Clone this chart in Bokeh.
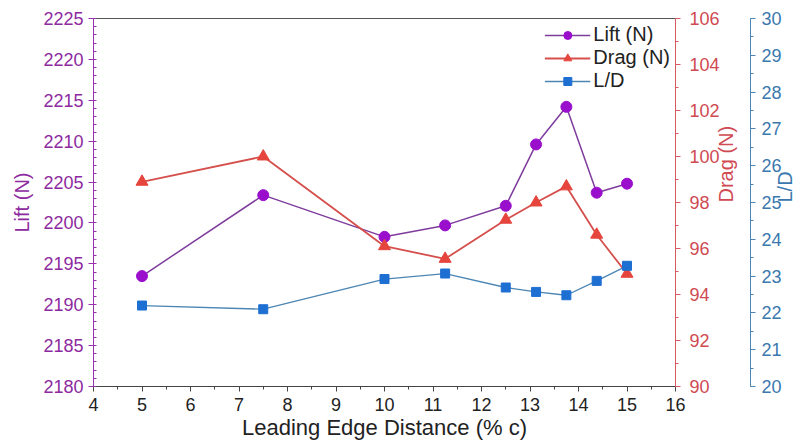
import math
from bokeh.plotting import figure
from bokeh.models import Range1d, LinearAxis, SingleIntervalTicker, Legend, LegendItem
from bokeh.embed import file_html
from bokeh.resources import INLINE

# Data
x_dist = [5, 7.5, 10, 11.25, 12.5, 13.125, 13.75, 14.375, 15]
lift = [2193.5, 2203.4, 2198.3, 2199.7, 2202.1, 2209.6, 2214.2, 2203.7, 2204.8]
drag = [98.9, 100.0, 96.1, 95.55, 97.25, 98.0, 98.7, 96.6, 94.9]
lift_drag = [22.2, 22.1, 22.92, 23.07, 22.69, 22.57, 22.48, 22.87, 23.28]

FONT = "Liberation Sans"
LIFT_C, LIFT_L, LIFT_T = "#9A0FCC", "#7E3C9C", "#8E2AA0"
DRAG_C, DRAG_L, DRAG_T = "#E5453C", "#D5504C", "#CF4A52"
LD_C, LD_L, LD_T = "#1E6FD2", "#4B86B4", "#3A78AE"
AX = "#444444"

p = figure(width=809, height=442, output_backend="svg", toolbar_location=None,
           x_range=Range1d(4, 16), y_range=Range1d(2180, 2225),
           min_border_top=18, min_border_left=93, min_border_right=0, min_border_bottom=0)
p.grid.visible = False
p.outline_line_color = "#555555"
p.extra_y_ranges = {"drag": Range1d(90, 106), "ld": Range1d(20, 30)}

# x axis
xa = p.xaxis[0]
xa.ticker = SingleIntervalTicker(interval=1, num_minor_ticks=2)
xa.axis_label = "Leading Edge Distance (% c)"
xa.axis_label_text_font = FONT
xa.axis_label_text_font_size = "22px"
xa.axis_label_text_font_style = "normal"
xa.axis_label_text_color = "#222222"
xa.axis_label_standoff = 1
xa.major_label_text_font = FONT
xa.major_label_text_font_size = "18px"
xa.major_label_text_color = "#222222"
xa.major_label_standoff = 6
xa.axis_line_color = AX
xa.major_tick_line_color = AX
xa.minor_tick_line_color = AX
xa.major_tick_out = 5
xa.major_tick_in = 0
xa.minor_tick_out = 3
xa.minor_tick_in = 0


def style_y(ax, col, tcol, label, lab_standoff, title_standoff, right=False):
    ax.axis_label = label
    ax.axis_label_text_font = FONT
    ax.axis_label_text_font_size = "20px"
    ax.axis_label_text_font_style = "normal"
    ax.axis_label_text_color = tcol
    ax.axis_label_standoff = title_standoff
    ax.major_label_text_font = FONT
    ax.major_label_text_font_size = "18px"
    ax.major_label_text_color = tcol
    ax.major_label_standoff = lab_standoff
    ax.axis_line_color = col
    ax.major_tick_line_color = col
    ax.minor_tick_line_color = col
    ax.major_tick_out = 5
    ax.major_tick_in = 0
    if right:
        ax.minor_tick_out = 3
        ax.minor_tick_in = 0
        try:
            ax.axis_label_orientation = math.pi / 2
        except Exception:
            pass
    else:
        ax.minor_tick_out = 0
        ax.minor_tick_in = 3


ya = p.yaxis[0]
ya.ticker = SingleIntervalTicker(interval=5, num_minor_ticks=5)
style_y(ya, "#9A30B0", LIFT_T, "Lift (N)", 5, 7)

drag_ax = LinearAxis(y_range_name="drag",
                     ticker=SingleIntervalTicker(interval=2, num_minor_ticks=2))
style_y(drag_ax, "#D85A62", DRAG_T, "Drag (N)", 9, 3, right=True)
p.add_layout(drag_ax, "right")

ld_ax = LinearAxis(y_range_name="ld",
                   ticker=SingleIntervalTicker(interval=1, num_minor_ticks=2))
style_y(ld_ax, "#4A86B8", LD_T, "L/D", 6, 0, right=True)
p.add_layout(ld_ax, "right")

# series
l1 = p.line(x_dist, lift, line_color=LIFT_L, line_width=1.5)
s1 = p.scatter(x_dist, lift, marker="circle", size=11, fill_color=LIFT_C, line_color=LIFT_C)
l2 = p.line(x_dist, drag, line_color=DRAG_L, line_width=1.8, y_range_name="drag")
s2 = p.scatter(x_dist, drag, marker="triangle", size=12, fill_color=DRAG_C, line_color=DRAG_C,
               y_range_name="drag")
l3 = p.line(x_dist, lift_drag, line_color=LD_L, line_width=1.3, y_range_name="ld")
s3 = p.scatter(x_dist, lift_drag, marker="square", size=9, fill_color=LD_C, line_color=LD_C,
               y_range_name="ld")

legend = Legend(items=[
    LegendItem(label="Lift (N)", renderers=[l1, s1]),
    LegendItem(label="Drag (N)", renderers=[l2, s2]),
    LegendItem(label="L/D", renderers=[l3, s3]),
], location="top_right")
legend.border_line_color = None
legend.background_fill_alpha = 0
legend.label_text_font = FONT
legend.label_text_font_size = "20px"
legend.label_text_color = "#222222"
legend.glyph_width = 46
legend.glyph_height = 20
legend.spacing = 0
legend.padding = 2
legend.margin = 5
legend.label_standoff = 3
p.add_layout(legend)

open("out.html", "w").write(file_html(p, INLINE))
